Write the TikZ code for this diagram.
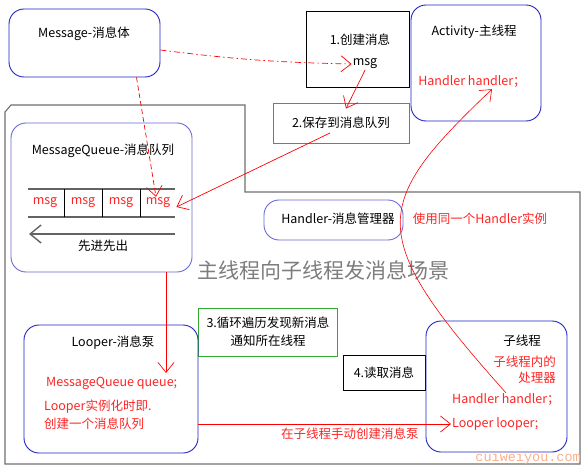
\documentclass[tikz,border=0pt]{standalone}
\usepackage{fontspec}
\setmainfont{Noto Sans CJK SC}
\newfontfamily\markfont{Liberation Mono}
\usetikzlibrary{arrows.meta,calc,positioning}
\definecolor{boxblue}{RGB}{35,35,195}
\definecolor{softblue}{RGB}{105,105,215}
\definecolor{boxgreen}{RGB}{50,170,50}
\definecolor{linered}{RGB}{255,0,0}
\definecolor{textred}{RGB}{255,35,35}
\definecolor{framegray}{RGB}{110,110,110}
\definecolor{titlegray}{RGB}{125,125,125}
\definecolor{markorange}{RGB}{250,175,135}
\tikzset{
  thread/.style={draw=boxblue, line width=0.9pt, rounded corners=15pt},
  part/.style={draw=softblue, line width=0.9pt, rounded corners=15pt},
  stepbox/.style={draw=black, line width=0.9pt},
  stepgreen/.style={draw=boxgreen, line width=0.9pt},
  txt/.style={font=\fontsize{12.5}{18}\selectfont, inner sep=1pt},
  redtxt/.style={txt, text=textred},
  flow/.style={-{Straight Barb[length=10pt,width=16pt]}, linered, line width=0.7pt},
  queue/.style={framegray!90!black, line width=1.4pt},
  frame/.style={framegray, line width=1.1pt}
}
\begin{document}
\begin{tikzpicture}[x=1pt,y=-1pt]
  \useasboundingbox (0,0) rectangle (588,470);

  % outer scene frame
  \draw[frame] (11,105) -- (245,105) -- (245,192) -- (580,192) -- (580,464)
    -- (5,464) -- (5,112) -- cycle;

  % boxes
  \node[thread, minimum width=151, minimum height=68] (message) at (84.5,43) {};
  \node[stepbox, minimum width=103, minimum height=76] (create) at (357.5,49) {};
  \node[thread, minimum width=130, minimum height=116] (activity) at (476,63) {};
  \node[stepgreen, minimum width=136, minimum height=40] (save) at (341,123) {};
  \node[part, minimum width=181, minimum height=149] (mq) at (101.5,197.5) {};
  \node[part, minimum width=139, minimum height=40] (handler) at (333.5,220) {};
  \node[stepgreen, minimum width=139, minimum height=48] (loop) at (267.5,332) {};
  \node[thread, minimum width=174, minimum height=128] (looper) at (111,389) {};
  \node[stepbox, minimum width=82, minimum height=35] (read) at (384,372.5) {};
  \node[thread, minimum width=141, minimum height=131] (child) at (496.5,386.5) {};

  % texts
  \node[txt] (messagett) at (84,34) {Message-消息体};
  \node[txt] (creatett) at (360,40) {1.创建消息};
  \node[txt] (msg) at (365,64) {msg};
  \node[txt] (activitytt) at (474,32) {Activity-主线程};
  \node[redtxt] (hh1) at (472,82) {Handler handler；};
  \node[txt] (savett) at (341,123) {2.保存到消息队列};
  \node[txt] (mqtt) at (103,151) {MessageQueue-消息队列};
  \node[txt] (handlertt) at (338,219) {Handler-消息管理器};
  \node[redtxt] (samett) at (480,219) {使用同一个Handler实例};
  \node[font=\fontsize{21}{24}\selectfont, text=titlegray] (scene) at (323,270)
    {主线程向子线程发消息场景};
  \node[txt, align=center] (looptt) at (268,332) {3.循环遍历发现新消息\\通知所在线程};
  \node[txt] (loopertt) at (113,343) {Looper-消息泵};
  \node[redtxt, anchor=west] (lqueue) at (45,383) {MessageQueue queue;};
  \node[redtxt, anchor=west, align=left] (lnote) at (43,415)
    {Looper实例化时即.\\创建一个消息队列};
  \node[txt] (readtt) at (384,373) {4.读取消息};
  \node[txt] (childtt) at (522,341) {子线程};
  \node[redtxt, anchor=east, align=right, font=\fontsize{12.5}{16}\selectfont]
    (hnote) at (557,370) {子线程内的\\处理器};
  \node[redtxt, anchor=west] (hh2) at (451,400) {Handler handler；};
  \node[redtxt, anchor=west] (ll) at (451,424) {Looper looper;};
  \node[font=\markfont\fontsize{13.5}{15}\selectfont, text=markorange, anchor=east,
    inner sep=0pt] (mark) at (581,458) {cuiweiyou.com};

  % message queue
  \draw[queue] (28,189) -- (175,189);
  \draw[queue] (28,217) -- (175,217);
  \foreach \x in {64,102,140}
    \draw[black, line width=1pt] (\x,189) -- (\x,217);
  \foreach \x/\n in {45/1,83/2,121/3,158/4}
    \node[redtxt] (q\n) at (\x,203) {msg};
  \coordinate (fifoa) at (175,234);
  \coordinate (fifob) at (29,234);
  \draw[queue, -{Straight Barb[length=11pt,width=18pt]}] (fifoa) -- (fifob);
  \node[txt] (fifo) at (103,246) {先进先出};

  % flow
  \draw[flow, dash pattern=on 6pt off 3pt on 1.5pt off 3pt]
    ([yshift=-7pt]message.east) to[bend right=3] (msg.west);
  \draw[flow, dash pattern=on 5pt off 3pt]
    ([xshift=52pt]message.south) -- ([xshift=-2pt]q4.north);
  \draw[flow] (msg.south) -- ([xshift=5pt,yshift=-6pt]save.north);
  \draw[flow] ([shift={(-11pt,-10pt)}]save.center) -- ([xshift=5pt,yshift=-4pt]q4.east);
  \coordinate (lq) at (166,373);
  \draw[flow] (mq.south -| lq) -- (lq);
  \draw[flow] (looper.east |- ll.west) -- (ll.west)
    node[redtxt, pos=0.6, below=3pt] (manual) {在子线程手动创建消息泵};
  \draw[flow, line width=0.6pt] (hh2.north) .. controls (365,235) and (370,205)
    .. ([xshift=20pt]hh1.south);
\end{tikzpicture}
\end{document}
